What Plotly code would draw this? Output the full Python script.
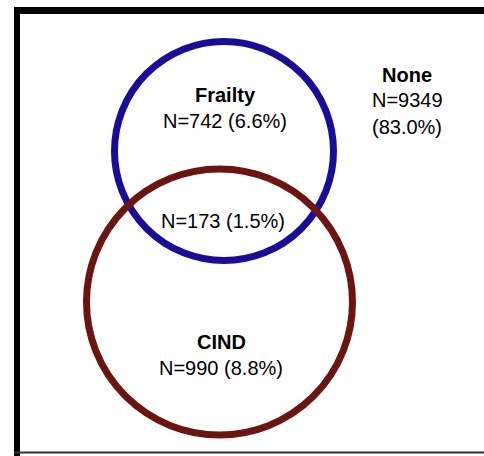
import plotly.graph_objects as go

# Data
group_names = ["Frailty", "CIND", "None"]
group_counts = [742, 990, 9349]
group_pcts = [6.6, 8.8, 83.0]
overlap_count = 173
overlap_pct = 1.5

W, H = 484, 456
BLUE = "#1b0c98"
RED = "#6a1511"
FONT = "Liberation Sans, Arial, sans-serif"

# Layout (page pixel coordinates)
circles = {
    "Frailty": dict(cx=224, cy=151, r=109.5, color=BLUE),
    "CIND": dict(cx=219.5, cy=302, r=133, color=RED),
}
label_pos = {
    "Frailty": (225, 95),
    "CIND": (221, 342),
    "None": (407, 75),
}

fig = go.Figure()
fig.add_trace(go.Scatter(x=[0, W], y=[0, H], mode="markers",
                         marker=dict(opacity=0), hoverinfo="skip", showlegend=False))

shapes = []
for name in ["Frailty", "CIND"]:
    c = circles[name]
    shapes.append(dict(type="circle", xref="x", yref="y",
                       x0=c["cx"] - c["r"], x1=c["cx"] + c["r"],
                       y0=c["cy"] - c["r"], y1=c["cy"] + c["r"],
                       line=dict(color=c["color"], width=7)))
# frame
shapes.append(dict(type="line", xref="x", yref="y", x0=17, x1=17, y0=7, y1=460,
                   line=dict(color="black", width=6)))
shapes.append(dict(type="line", xref="x", yref="y", x0=14, x1=490, y0=10.5, y1=10.5,
                   line=dict(color="black", width=7)))
shapes.append(dict(type="line", xref="x", yref="y", x0=14, x1=490, y0=452.5, y1=452.5,
                   line=dict(color="#333333", width=2)))

annotations = []
fs = 20
for i, name in enumerate(group_names):
    x, y = label_pos[name]
    annotations.append(dict(x=x, y=y, xref="x", yref="y", text=f"<b>{name}</b>",
                            showarrow=False, font=dict(size=fs, color="black", family=FONT)))
    if name == "None":
        annotations.append(dict(x=x, y=y + 25, xref="x", yref="y",
                                text=f"N={group_counts[i]}", showarrow=False,
                                font=dict(size=fs, color="black", family=FONT)))
        annotations.append(dict(x=x, y=y + 52, xref="x", yref="y",
                                text=f"({group_pcts[i]:.1f}%)", showarrow=False,
                                font=dict(size=fs, color="black", family=FONT)))
    else:
        annotations.append(dict(x=x, y=y + 26, xref="x", yref="y",
                                text=f"N={group_counts[i]} ({group_pcts[i]:.1f}%)",
                                showarrow=False,
                                font=dict(size=fs, color="black", family=FONT)))
annotations.append(dict(x=223, y=221, xref="x", yref="y",
                        text=f"N={overlap_count} ({overlap_pct:.1f}%)", showarrow=False,
                        font=dict(size=fs, color="black", family=FONT)))

fig.update_layout(
    width=W, height=H,
    margin=dict(l=0, r=0, t=0, b=0),
    paper_bgcolor="white", plot_bgcolor="white",
    xaxis=dict(range=[0, W], visible=False, fixedrange=True),
    yaxis=dict(range=[H, 0], visible=False, fixedrange=True),
    shapes=shapes, annotations=annotations, showlegend=False,
)
fig.write_html(
    "out.html",
    config={"displayModeBar": False},
    post_script="document.body.style.margin='0';document.body.style.overflow='hidden';",
)
